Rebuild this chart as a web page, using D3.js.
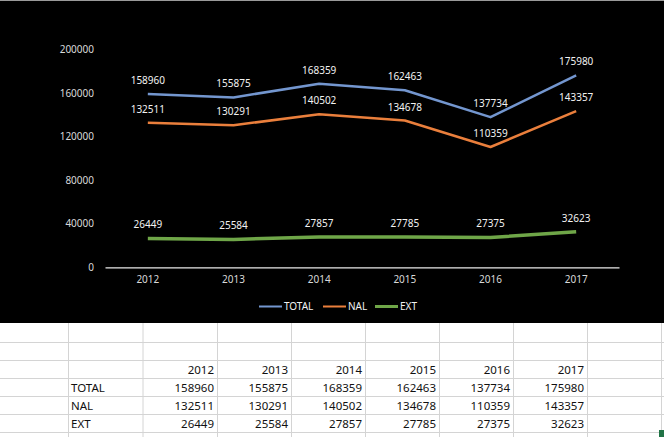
<!DOCTYPE html>
<html>
<head>
<meta charset="utf-8">
<script src="https://cdn.jsdelivr.net/npm/d3@7"></script>
<style>
  body { margin: 0; background: #fff; }
  svg { display: block; }
</style>
</head>
<body>
<div id="chart-area"></div>
<script>
var years = ["2012", "2013", "2014", "2015", "2016", "2017"];
var total = [158960, 155875, 168359, 162463, 137734, 175980];
var nal = [132511, 130291, 140502, 134678, 110359, 143357];
var ext = [26449, 25584, 27857, 27785, 27375, 32623];
var yTicks = [0, 40000, 80000, 120000, 160000, 200000];
var seriesNames = ["TOTAL", "NAL", "EXT"];

var series = [
  {name: seriesNames[0], values: total, color: "#7396cf", width: 2.5},
  {name: seriesNames[1], values: nal, color: "#ea7f3c", width: 2.5},
  {name: seriesNames[2], values: ext, color: "#6fa648", width: 3.5}
];

var total_width = 664;
var total_height = 437;
var font = "'Noto Sans', sans-serif";

var svg = d3.select('#chart-area').append('svg')
            .attr("width", total_width)
            .attr("height", total_height);

// chart background (black Excel chart area)
svg.append("rect")
   .attr("x", 0).attr("y", 0)
   .attr("width", total_width).attr("height", 1)
   .attr("fill", "#9a9a9a");
svg.append("rect")
   .attr("x", 0).attr("y", 1)
   .attr("width", total_width).attr("height", 322)
   .attr("fill", "#000");

var x = d3.scaleBand()
          .domain(years)
          .range([105, 619]);

var y = d3.scaleLinear()
          .domain([0, 200000])
          .range([267.3, 49.3]);

var yAxis = d3.axisLeft(y).tickValues(yTicks).tickFormat(d3.format("d")).tickSize(0).tickPadding(0);
var gy = svg.append("g")
            .attr("transform", "translate(94,0)")
            .call(yAxis);
gy.select(".domain").remove();
gy.selectAll("text")
  .attr("fill", "#d9d9d9")
  .style("font-family", font)
  .style("font-size", "10px");

var xAxis = d3.axisBottom(x).tickSize(0).tickPadding(9);
var gx = svg.append("g")
            .attr("transform", "translate(0," + y(0) + ")")
            .call(xAxis);
gx.select(".domain").attr("stroke", "#e8e8e8").attr("stroke-width", 1.2);
gx.selectAll("text")
  .attr("fill", "#d9d9d9")
  .style("font-family", font)
  .style("font-size", "10px");

var line = d3.line()
             .x(function(d, i) { return x(years[i]) + x.bandwidth() / 2; })
             .y(function(d) { return y(d); });

series.forEach(function(s) {
  svg.append("path")
     .datum(s.values)
     .attr("d", line)
     .attr("fill", "none")
     .attr("stroke", s.color)
     .attr("stroke-width", s.width)
     .attr("stroke-linejoin", "round");

  svg.append("g").selectAll("text")
     .data(s.values)
     .enter().append("text")
     .attr("x", function(d, i) { return x(years[i]) + x.bandwidth() / 2; })
     .attr("y", function(d) { return y(d) - 13.5; })
     .attr("dy", "0.35em")
     .attr("text-anchor", "middle")
     .attr("fill", "#f2f2f2")
     .style("font-family", font)
     .style("font-size", "10px")
     .text(function(d) { return d; });
});

// legend
var legendX = [259, 323, 375];
var legend = svg.append("g").selectAll("g")
                .data(series)
                .enter().append("g")
                .attr("transform", function(d, i) { return "translate(" + legendX[i] + ",306.5)"; });
legend.append("line")
      .attr("x1", 0).attr("x2", 23)
      .attr("stroke", function(d) { return d.color; })
      .attr("stroke-width", function(d) { return d.width - 0.5; });
legend.append("text")
      .attr("x", 25)
      .attr("dy", "0.35em")
      .attr("fill", "#f2f2f2")
      .style("font-family", font)
      .style("font-size", "10px")
      .text(function(d) { return d.name; });

// spreadsheet grid below the chart
var colEdges = [68, 142.5, 217, 291, 365, 439, 513, 587, 661];
var rowEdges = [342, 360, 378, 396, 414, 432];
var grid = svg.append("g").attr("stroke", "#d4d4d4").attr("stroke-width", 1);
grid.selectAll("line.h")
    .data(rowEdges)
    .enter().append("line")
    .attr("x1", 0).attr("x2", total_width)
    .attr("y1", function(d) { return d + 0.5; })
    .attr("y2", function(d) { return d + 0.5; });
grid.selectAll("line.v")
    .data(colEdges)
    .enter().append("line")
    .attr("x1", function(d) { return d + 0.5; })
    .attr("x2", function(d) { return d + 0.5; })
    .attr("y1", 323).attr("y2", total_height);

var tableRows = [
  {label: "", values: years},
  {label: seriesNames[0], values: total},
  {label: seriesNames[1], values: nal},
  {label: seriesNames[2], values: ext}
];

var rowsG = svg.append("g").selectAll("g")
               .data(tableRows)
               .enter().append("g")
               .attr("transform", function(d, i) { return "translate(0," + ((rowEdges[1 + i] + rowEdges[2 + i]) / 2 + 0.5) + ")"; });

rowsG.append("text")
     .attr("x", colEdges[0] + 3)
     .attr("dy", "0.36em")
     .attr("fill", "#111")
     .style("font-family", font)
     .style("font-size", "11.5px")
     .text(function(d) { return d.label; });

rowsG.selectAll("text.v")
     .data(function(d) { return d.values; })
     .enter().append("text")
     .attr("x", function(d, i) { return colEdges[i + 2] - 3; })
     .attr("dy", "0.36em")
     .attr("text-anchor", "end")
     .attr("fill", "#111")
     .style("font-family", font)
     .style("font-size", "11.5px")
     .text(function(d) { return d; });

// selection fill handle
svg.append("rect")
   .attr("x", 659).attr("y", 430)
   .attr("width", 5).attr("height", 7)
   .attr("fill", "#217346");
</script>
</body>
</html>
